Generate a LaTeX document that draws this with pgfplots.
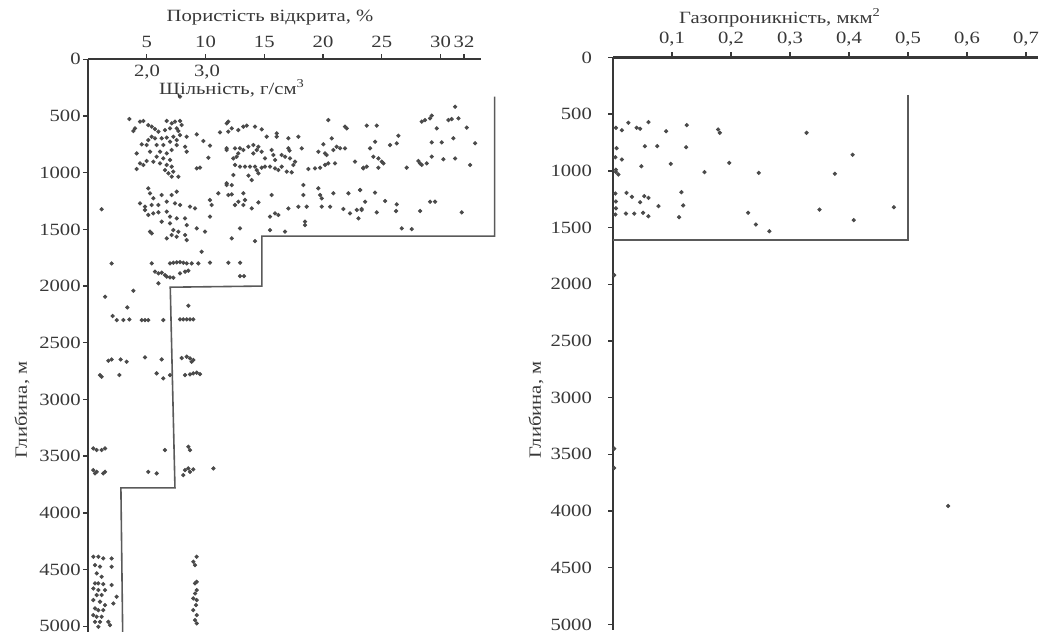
\documentclass[border=0pt]{standalone}
\usepackage{pgfplots}
\pgfplotsset{compat=1.18}
\usepackage{fontspec}
\setmainfont[FakeStretch=1.2]{Liberation Serif}
\definecolor{ink}{HTML}{383838}
\definecolor{dotc}{HTML}{4A4A4A}
\definecolor{stepc}{HTML}{5A5A5A}
\begin{document}
\fontsize{8.6}{10}\selectfont
\begin{tikzpicture}
\useasboundingbox (0,0) rectangle (524pt,320.5pt);
\pgfplotsset{depthax/.style={
  scale only axis, y dir=reverse, ymin=0, ymax=5050, height=286.3pt,
  axis x line*=top, axis y line*=left,
  axis line style={ink, line width=1.2pt, -},
  ytick={0,500,...,5000},
  tick style={ink, line width=0.7pt}, major tick length=2.5pt, tick align=outside,
  /pgf/number format/1000 sep={}, /pgf/number format/assume math mode=true,
  ticklabel style={font=\fontsize{8.6}{10}\selectfont, text=ink},
  clip=false,
}}
% ---------------- left panel ----------------
\begin{axis}[depthax, at={(44pt,290.85pt)}, anchor=north west,
  width=196.25pt, xmin=0, xmax=33.4,
  xtick={5,10,15,20,25,30,32},
  yticklabel style={inner sep=1pt},
]
\addplot[only marks, mark=*, mark size=0.85pt, dotc] coordinates {
(7.83,330)
(3.52,527)(4.00,609)(4.43,550)(4.71,544)(5.13,580)(5.42,594)(5.70,615)(6.70,544)(7.12,565)(7.40,550)
(7.83,544)(7.97,580)(7.55,609)(6.98,609)(6.55,624)(7.69,633)(3.86,633)(5.99,638)(5.42,683)(5.13,712)
(5.70,697)(6.27,697)(6.70,691)(7.26,683)(7.83,668)(8.40,683)(7.55,712)(6.98,727)(4.57,750)(4.99,756)
(5.84,756)(6.41,756)(7.55,756)(8.26,771)(9.25,662)(9.82,721)(10.38,762)(11.23,644)(11.80,565)(11.80,785)
(4.14,830)(5.28,815)(6.13,815)(6.70,830)(7.12,800)(8.40,815)(5.84,859)(6.41,874)(6.98,888)(4.99,897)
(4.43,918)(4.71,932)(5.56,903)(6.13,918)(6.70,932)(7.12,947)(4.14,968)(6.55,977)(6.84,1006)(7.26,991)
(7.69,1035)(10.24,868)(9.25,962)(9.53,956)(7.12,1035)(5.13,1138)(5.28,1182)(5.56,1226)(6.27,1197)(7.12,1197)
(7.55,1168)(7.83,1285)(4.43,1271)(4.85,1300)(5.42,1285)(5.99,1285)(6.70,1256)(7.40,1271)(8.68,1300)(9.11,1315)
(10.38,1241)(10.52,1285)(11.09,1182)(11.80,1109)(1.16,1323)(4.85,1329)(5.56,1359)(5.99,1350)(6.70,1344)(5.13,1373)
(6.98,1388)(6.27,1432)(6.98,1447)(7.55,1403)(8.26,1403)(8.40,1462)(10.38,1388)(9.96,1520)(5.28,1520)(5.42,1535)
(7.26,1506)(7.69,1520)(7.12,1550)(7.55,1565)(8.26,1550)(6.70,1579)(8.40,1594)(9.25,1491)
(11.94,550)(11.94,638)(12.23,609)(12.79,624)(13.22,594)(13.50,585)(14.21,594)(14.78,618)(15.21,683)(16.06,653)
(16.06,683)(17.05,697)(17.90,683)(20.45,536)(21.87,594)(22.02,609)(20.74,697)(20.03,750)(11.80,800)(12.51,785)
(12.93,785)(13.22,800)(13.65,771)(14.07,756)(14.50,771)(14.36,800)(12.79,830)(12.65,859)(12.37,874)(14.07,830)
(14.78,815)(15.63,800)(15.77,844)(16.48,844)(16.77,859)(17.19,874)(17.05,785)(17.15,805)(18.19,785)(19.60,815)
(20.17,830)(20.31,844)(20.88,800)(21.16,771)(21.45,785)(21.87,785)(17.62,903)(15.92,888)(15.06,874)(12.51,932)
(12.93,947)(13.36,947)(13.79,947)(14.21,947)(14.36,977)(14.50,1006)(14.78,956)(15.06,947)(15.49,947)(15.92,962)
(16.20,977)(16.48,947)(16.91,991)(17.33,997)(17.48,932)(18.75,968)(19.32,962)(19.75,956)(20.17,932)(20.45,918)
(21.02,918)(22.72,903)(23.43,956)(12.37,1021)(13.65,1026)(13.93,1065)(11.80,1094)(12.23,1109)(18.33,1109)(19.60,1138)
(20.88,1182)(22.16,1182)(23.15,1153)(18.33,1197)(19.75,1197)(19.89,1226)(11.94,1197)(12.23,1191)(13.22,1182)(13.36,1241)
(12.79,1256)(12.51,1285)(13.22,1285)(13.93,1315)(14.50,1262)(15.63,1197)(17.05,1315)(17.90,1300)(18.61,1300)(19.89,1300)
(20.60,1300)(21.73,1320)(22.30,1359)(22.87,1329)(23.01,1403)(23.29,1329)(15.92,1359)(16.20,1373)(15.49,1388)(18.47,1432)
(18.47,1462)(12.93,1491)(15.49,1506)(16.77,1520)(12.23,1579)(14.21,1603)
(23.72,585)(24.57,585)(24.43,727)(24.00,785)(25.70,756)(26.27,741)(26.41,674)(24.28,859)(24.71,874)(25.00,903)
(25.14,918)(23.43,962)(23.72,947)(24.71,956)(27.12,956)(28.11,897)(28.26,918)(28.40,932)(28.82,918)(29.25,859)
(30.24,882)(31.24,874)(32.51,932)(28.40,550)(28.68,536)(29.11,521)(29.25,497)(29.68,609)(30.67,536)(30.95,527)
(31.52,521)(31.24,418)(32.23,603)(29.25,732)(30.10,732)(31.09,697)(32.94,741)(23.15,1153)(23.58,1256)(24.43,1176)
(25.28,1250)(26.27,1279)(26.21,1338)(24.57,1350)(23.29,1320)(28.26,1338)(29.11,1256)(29.53,1256)(31.80,1350)(26.70,1491)
(27.55,1497)
(9.67,1697)(2.01,1800)(5.42,1800)(6.98,1800)(7.26,1794)(7.55,1791)(7.83,1788)(8.11,1794)(8.40,1800)(8.82,1800)
(9.39,1800)(10.38,1794)(11.94,1794)(12.94,1794)(5.70,1873)(5.99,1888)(6.27,1882)(6.55,1903)(6.70,1917)(6.98,1923)
(7.26,1926)(7.83,1888)(8.26,1873)(8.54,1864)(12.94,1912)(13.28,1912)(5.99,1976)(3.86,2041)(1.45,2094)(3.35,2188)
(8.54,2173)(2.10,2264)(2.44,2300)(3.01,2300)(3.52,2294)(4.57,2300)(4.85,2300)(5.13,2300)(6.41,2300)(7.83,2294)
(8.11,2294)(8.40,2294)(8.68,2294)(8.96,2294)(1.73,2658)(2.01,2647)(2.78,2647)(3.29,2667)(4.85,2629)(6.27,2647)
(7.97,2635)(8.40,2623)(8.68,2638)(8.82,2667)(8.96,2652)(1.02,2785)(1.16,2799)(2.67,2785)(5.84,2770)(6.41,2814)
(6.98,2785)(8.26,2785)(8.68,2779)(8.96,2770)(9.25,2764)(9.53,2776)
(0.45,3432)(0.74,3446)(1.16,3446)(1.45,3432)(6.55,3446)(8.54,3417)(8.68,3446)(0.45,3623)(0.60,3652)(0.74,3638)
(1.30,3652)(1.45,3638)(5.13,3638)(5.84,3652)(8.11,3667)(8.26,3623)(8.54,3608)(8.68,3638)(8.96,3617)(10.67,3608)
(0.45,4387)(0.88,4387)(1.30,4402)(2.01,4402)(0.60,4461)(1.02,4475)(2.01,4475)(9.25,4387)(8.96,4431)(9.11,4461)
(0.74,4534)(1.16,4564)(0.60,4622)(0.88,4622)(1.30,4628)(2.01,4637)(9.25,4608)(9.11,4622)(0.45,4667)(0.88,4681)
(1.45,4681)(0.74,4725)(1.16,4725)(2.44,4740)(9.25,4681)(9.11,4711)(0.45,4769)(1.02,4784)(1.45,4814)(2.16,4799)
(0.60,4843)(0.88,4858)(1.30,4858)(8.96,4755)(9.25,4769)(9.19,4814)(0.45,4902)(0.74,4916)(1.16,4916)(0.60,4961)
(1.02,4961)(1.73,4961)(8.96,4858)(9.25,4902)(9.11,4946)(9.25,4975)(0.88,5005)(1.87,4990)
};
\addplot[stepc, line width=0.8pt, mark=none] coordinates {
(34.6,330)(34.6,1560)(14.8,1560)(14.8,2000)(7.0,2010)(7.4,3780)(2.8,3780)(2.95,5050)
};
\end{axis}
% ---------------- right panel ----------------
\begin{axis}[depthax, at={(306.5pt,291.75pt)}, anchor=north west,
  width=212.4pt, xmin=0, xmax=0.72,
  xtick={0.1,0.2,0.3,0.4,0.5,0.6,0.7},
  xticklabels={{0,1},{0,2},{0,3},{0,4},{0,5},{0,6},{0,7}},
  yticklabel style={xshift=-5pt},
]
\addplot[only marks, mark=*, mark size=0.85pt, dotc] coordinates {
(0.015,641)(0.026,576)(0.040,620)(0.046,629)(0.060,570)(0.090,650)(0.125,597)(0.178,635)(0.181,664)(0.328,664)
(0.054,782)(0.075,782)(0.124,791)(0.406,858)(0.015,900)(0.048,959)(0.098,938)(0.197,929)(0.155,1011)(0.247,1017)
(0.376,1026)(0.009,1032)(0.023,1194)(0.032,1229)(0.053,1223)(0.060,1238)(0.046,1276)(0.116,1188)(0.077,1311)(0.119,1305)
(0.350,1341)(0.476,1320)(0.022,1376)(0.036,1376)(0.051,1370)(0.060,1400)(0.112,1408)(0.229,1370)(0.242,1473)(0.265,1532)
(0.408,1435)(0.005,620)(0.006,800)(0.004,880)(0.005,990)(0.005,1010)(0.004,1200)(0.005,1270)(0.005,1330)(0.004,1385)
(0.568,3955)(0.002,1920)(0.002,3450)(0.002,3620)
};
\addplot[stepc, line width=0.8pt, mark=none] coordinates {
(0.5,330)(0.5,1610)(0,1610)
};
\end{axis}
% ---------------- texts ----------------
\node[text=ink] at (135pt,311.5pt) {Пористість відкрита, \%};
\node[text=ink] at (73.5pt,284.3pt) {2,0};
\node[text=ink] at (103.5pt,284.3pt) {3,0};
\node[text=ink] at (116pt,276pt) {Щільність, г/см\textsuperscript{3}};
\node[text=ink] at (390pt,311.5pt) {Газопроникність, мкм\textsuperscript{2}};
\node[text=ink, rotate=90] at (11pt,115.5pt) {Глибина, м};
\node[text=ink, rotate=90] at (268pt,115.5pt) {Глибина, м};
\end{tikzpicture}
\end{document}
